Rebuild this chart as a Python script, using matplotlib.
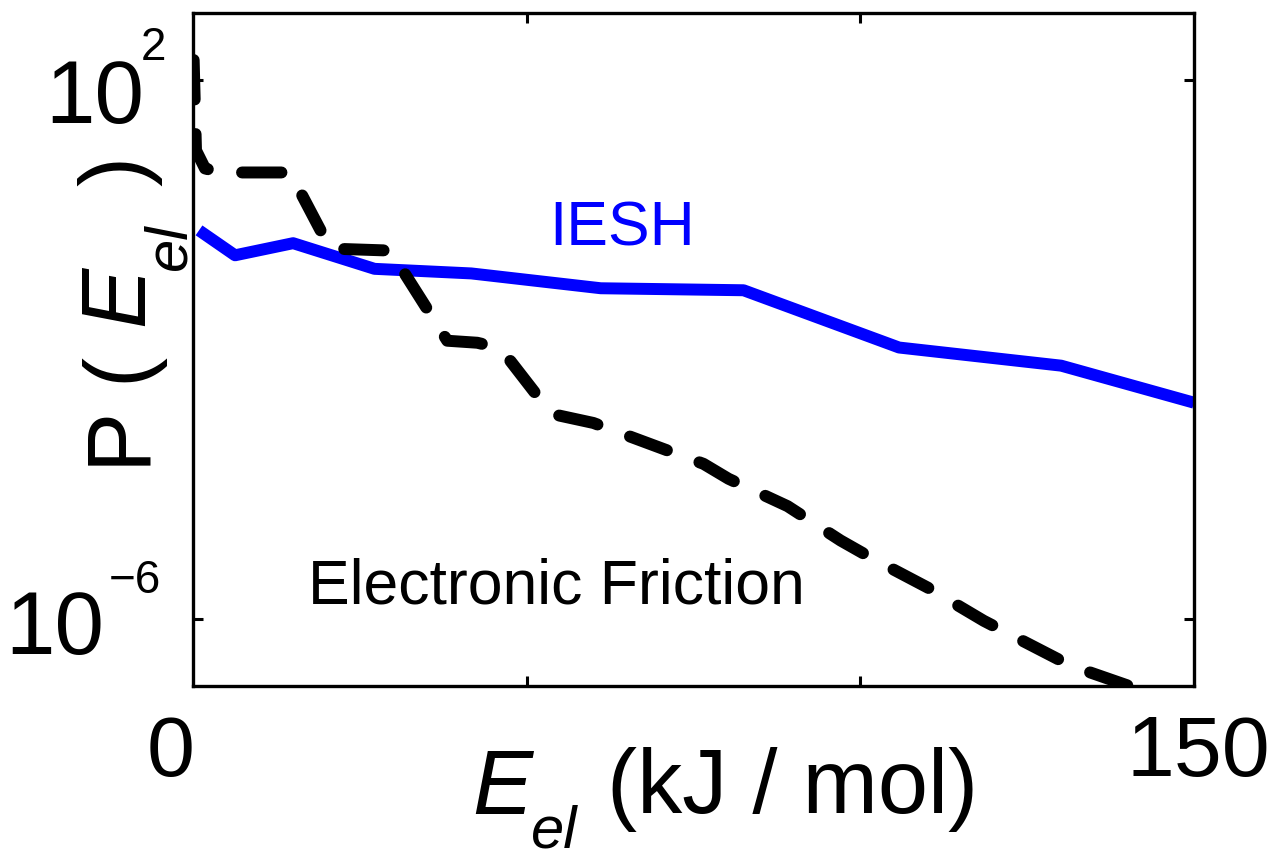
import matplotlib
matplotlib.use("Agg")
import matplotlib.pyplot as plt

plt.rcParams['font.family'] = ['Liberation Sans', 'DejaVu Sans']

# IESH energy distribution
iesh_energy = [0.9, 6.3, 15.0, 27.2, 41.7, 61.1, 82.5, 105.8, 130.1, 150.0]
iesh_prob = [0.589, 0.251, 0.380, 0.158, 0.135, 0.0813, 0.0759, 0.0107, 0.00575, 0.00162]

# Electronic friction energy distribution
ef_energy = [0.1, 0.45, 1.8, 4.05, 14.55, 20.55, 29.55, 38.1, 42.6, 45.6, 47.25,
             53.1, 54.75, 60.0, 76.5, 80.25, 89.1, 97.05, 101.55, 110.1, 118.5,
             131.55, 140.55, 145.0]
ef_prob = [200.0, 9.1, 4.9, 4.27, 4.27, 0.316, 0.295, 0.0135, 0.0126, 0.0107, 0.0074,
           1.32e-3, 1.05e-3, 8.1e-4, 2.0e-4, 1.2e-4, 4.7e-5, 1.45e-5, 8.1e-6, 2.9e-6,
           9.3e-7, 2.0e-7, 9.8e-8, 6.8e-8]

ytick_values = [1e2, 1e-6]
ytick_exponents = ['2', '\u22126']
xtick_values = [50, 100]
xend_labels = [0, 150]

W, H = 1272, 860
fig = plt.figure(figsize=(W / 100, H / 100), dpi=100)
ax = fig.add_axes([193 / W, 1 - 686 / H, (1194 - 193) / W, (686 - 13) / H])

ax.plot(iesh_energy, iesh_prob, color=(0, 0, 1), lw=8.6, solid_capstyle='butt',
        solid_joinstyle='round')
ax.plot(ef_energy, ef_prob, color='black', lw=8.6, linestyle=(0, (3.3, 2.9)),
        dash_capstyle='round', dash_joinstyle='round')

ax.set_yscale('log')
ax.set_xlim(0, 150)
ax.set_ylim(1e-7, 1e3)
ax.set_xticks(xtick_values)
ax.set_yticks(ytick_values)
ax.minorticks_off()
ax.tick_params(which='both', direction='in', length=7, width=2.2,
               top=True, right=True, labelbottom=False, labelleft=False)
for s in ax.spines.values():
    s.set_linewidth(2.4)

# y tick labels as base with a raised exponent
base_offsets = [(-49, -43), (-89, -35)]
exp_offsets = [(-52, 20), (-84, 26)]
for v, e, bo, eo in zip(ytick_values, ytick_exponents, base_offsets, exp_offsets):
    ax.annotate('10', xy=(0, v), xycoords=('axes fraction', 'data'),
                xytext=bo, textcoords='offset pixels', ha='right', va='baseline',
                fontsize=64, annotation_clip=False)
    ax.annotate(e, xy=(0, v), xycoords=('axes fraction', 'data'),
                xytext=eo, textcoords='offset pixels', ha='left', va='baseline',
                fontsize=33, annotation_clip=False)

# x end labels
for v, dx in zip(xend_labels, [-22, 4]):
    ax.annotate(str(v), xy=(v, 0), xycoords=('data', 'axes fraction'),
                xytext=(dx, -90), textcoords='offset pixels', ha='center',
                va='baseline', fontsize=62, annotation_clip=False)

# curve labels
ax.text(53.4, 0.35, 'IESH', color=(0, 0, 1), fontsize=45, va='baseline', ha='left')
ax.text(17.25, 1.67e-6, 'Electronic Friction', color='black', fontsize=45,
        va='baseline', ha='left')


def fx(x):
    return x / W


def fy(y):
    return 1 - y / H


# x axis label: E_el (kJ / mol)
fig.text(fx(472), fy(814), 'E', fontsize=65, style='italic', ha='left', va='baseline')
fig.text(fx(531), fy(848), 'el', fontsize=43, style='italic', ha='left', va='baseline')
fig.text(fx(607), fy(813), '(kJ / mol)', fontsize=65, ha='left', va='baseline')

# y axis label: P ( E_el ), reading upward
kw = dict(rotation=90, rotation_mode='anchor', ha='left', va='baseline')
fig.text(fx(143), fy(465), 'P', fontsize=65, **kw)
fig.text(fx(143), fy(382), '(', fontsize=65, **kw)
fig.text(fx(143), fy(326), 'E', fontsize=65, style='italic', **kw)
fig.text(fx(185), fy(270), 'el', fontsize=43, style='italic', **kw)
fig.text(fx(143), fy(186), ')', fontsize=65, **kw)

fig.savefig('out.png', dpi=100)
